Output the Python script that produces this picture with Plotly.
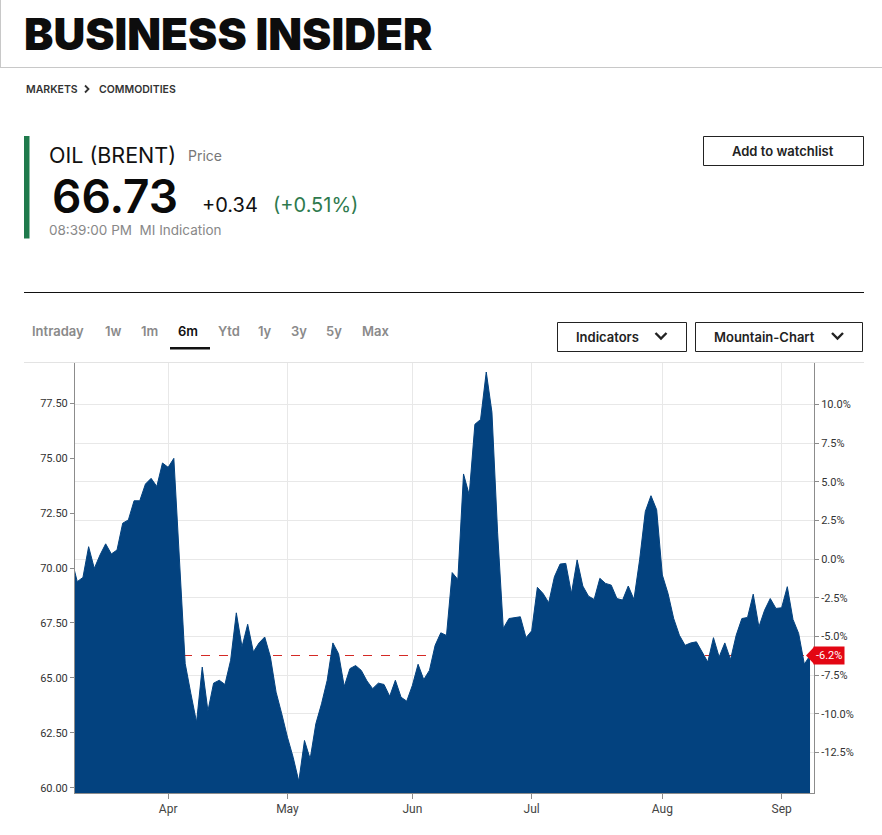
import pandas as pd
import plotly.graph_objects as go

# ---------------- data ----------------
trading_days = pd.bdate_range("2025-03-07", "2025-09-08")
holidays = pd.to_datetime(["2025-04-18"])
dates = [d for d in trading_days if d not in holidays]

prices = [
    70.40,
    69.38, 69.57, 70.97, 69.98, 70.59, 71.10, 70.64, 70.82, 72.04, 72.19,
    73.06, 73.06, 73.82, 74.08, 73.71, 74.78, 74.58, 74.99, 70.20, 65.65,
    64.28, 62.98, 65.49, 63.49, 64.76, 64.89, 64.70, 65.80, 67.96, 66.41,
    67.44, 66.18, 66.59, 66.86, 65.95, 64.35, 63.36, 62.30, 61.39, 60.29,
    62.15, 61.31, 62.91, 63.82, 64.89, 66.59, 66.10, 64.61, 65.42, 65.56,
    65.34, 64.86, 64.51, 64.76, 64.70, 64.16, 64.89, 64.12, 63.94, 64.66,
    65.62, 64.92, 65.34, 66.48, 67.05, 66.93, 69.79, 69.48, 74.28, 73.33,
    76.54, 76.76, 78.92, 77.09, 71.60, 67.25, 67.70, 67.75, 67.78, 66.83,
    67.14, 69.12, 68.84, 68.42, 69.60, 70.18, 70.21, 68.84, 70.37, 69.18,
    68.72, 68.57, 69.53, 69.30, 69.22, 68.61, 68.54, 69.18, 68.57, 70.37,
    72.57, 73.29, 72.65, 69.68, 68.84, 67.70, 66.94, 66.48, 66.59, 66.64,
    66.18, 65.72, 66.83, 65.95, 66.59, 65.83, 66.94, 67.70, 67.75, 68.81,
    67.32, 68.08, 68.61, 68.16, 68.19, 69.15, 67.66, 67.02, 65.62, 66.02,
]

price_ticks = [60.00, 62.50, 65.00, 67.50, 70.00, 72.50, 75.00, 77.50]
pct_ticks = [-12.5, -10.0, -7.5, -5.0, -2.5, 0.0, 2.5, 5.0, 7.5, 10.0]
tabs = ["Intraday", "1w", "1m", "6m", "Ytd", "1y", "3y", "5y", "Max"]
active_tab = "6m"

instrument = "OIL (BRENT)"
last_price = "66.73"
change_abs = "+0.34"
change_pct = "(+0.51%)"
timestamp = "08:39:00 PM  MI Indication"

# ---------------- derived ----------------
x = list(range(len(prices)))
base = prices[0]
last = prices[-1]
pct = [(p / base - 1) * 100 for p in prices]

tick_idx, tick_txt = [], []
for i in range(1, len(dates)):
    if dates[i].month != dates[i - 1].month:
        tick_idx.append(i)
        tick_txt.append(dates[i].strftime("%b"))

W, H = 882, 835
L, R, T, B = 75, 814, 363, 793
x_lo, x_hi = 0.6, 130.7
y_lo, y_hi = 59.76, 79.33


def px(X):
    return (X - L) / (R - L)


def py(Y):
    return (B - Y) / (B - T)


NAVY = "#03427f"
GRID = "#e8e8e8"
AXIS = "#8c8c8c"

fig = go.Figure()
# last-price dashed reference line, drawn under the area
fig.add_trace(go.Scatter(
    x=[x_lo, x_hi], y=[last, last], mode="lines",
    line=dict(color="#d42a26", width=1.1, dash="dash"),
    hoverinfo="skip", showlegend=False, cliponaxis=True,
))
fig.add_trace(go.Scatter(
    x=x, y=prices, mode="lines", fill="tozeroy",
    line=dict(color=NAVY, width=1), fillcolor=NAVY,
    hoverinfo="skip", showlegend=False,
))
fig.add_trace(go.Scatter(
    x=x, y=pct, yaxis="y2", mode="lines", opacity=0,
    line=dict(color=NAVY, width=0.1), hoverinfo="skip", showlegend=False,
))

tickfont = dict(family="Roboto", size=11, color="#333")

fig.update_layout(
    width=W, height=H, autosize=False,
    margin=dict(l=L, r=W - R, t=T, b=H - B, pad=0),
    paper_bgcolor="white", plot_bgcolor="white",
    xaxis=dict(
        range=[x_lo, x_hi], tickmode="array", tickvals=tick_idx, ticktext=tick_txt,
        showgrid=True, gridcolor=GRID, gridwidth=1, zeroline=False,
        showline=True, linecolor=AXIS, linewidth=1,
        ticks="outside", ticklen=5, tickcolor=AXIS,
        tickfont=dict(family="Roboto", size=12, color="#444"),
    ),
    yaxis=dict(
        range=[y_lo, y_hi], tickmode="array", tickvals=price_ticks,
        ticktext=[f"{v:.2f}" for v in price_ticks],
        showgrid=False, zeroline=False,
        showline=True, linecolor=AXIS, linewidth=1,
        ticks="outside", ticklen=4, tickcolor=AXIS, tickfont=tickfont,
    ),
    yaxis2=dict(
        overlaying="y", side="right",
        range=[(y_lo / base - 1) * 100, (y_hi / base - 1) * 100],
        tickmode="array", tickvals=pct_ticks,
        ticktext=[f"{v:.1f}%" for v in pct_ticks],
        showgrid=True, gridcolor=GRID, gridwidth=1, zeroline=False,
        showline=True, linecolor=AXIS, linewidth=1,
        ticks="outside", ticklen=4, tickcolor=AXIS, tickfont=tickfont,
    ),
)

shapes = []
ann = []

# header
shapes.append(dict(type="line", xref="paper", yref="paper", x0=px(0), x1=px(882),
                   y0=py(67.5), y1=py(67.5), line=dict(color="#c8c8c8", width=1)))
shapes.append(dict(type="line", xref="paper", yref="paper", x0=px(0.5), x1=px(0.5),
                   y0=py(0), y1=py(67.5), line=dict(color="#c8c8c8", width=1)))
ann.append(dict(text="BUSINESS INSIDER", x=px(22), y=py(34), xanchor="left",
                yanchor="middle", font=dict(family="Inter", size=44, color="#0d0d0d", weight=900)))

# breadcrumb
ann.append(dict(text="MARKETS", x=px(24), y=py(89), xanchor="left", yanchor="middle",
                font=dict(family="Inter", size=10.5, color="#333", weight=600)))
shapes.append(dict(type="path", xref="paper", yref="paper",
                   path=f"M {px(85)} {py(85.5)} L {px(88.5)} {py(89)} L {px(85)} {py(92.5)}",
                   line=dict(color="#333", width=1.8)))
ann.append(dict(text="COMMODITIES", x=px(97), y=py(89), xanchor="left", yanchor="middle",
                font=dict(family="Inter", size=10.5, color="#333", weight=600)))

# quote block
shapes.append(dict(type="rect", xref="paper", yref="paper", x0=px(24), x1=px(29.5),
                   y0=py(136), y1=py(238.5), fillcolor="#1f7a4c", line=dict(width=0)))
ann.append(dict(text=instrument, x=px(47), y=py(155), xanchor="left", yanchor="middle",
                font=dict(family="Inter", size=21.5, color="#111")))
ann.append(dict(text="Price", x=px(186), y=py(156), xanchor="left", yanchor="middle",
                font=dict(family="Inter", size=14, color="#777")))
ann.append(dict(text=last_price, x=px(50), y=py(196), xanchor="left", yanchor="middle",
                height=40, valign="middle",
                font=dict(family="Inter", size=46, color="#0a0a0a", weight=600)))
ann.append(dict(text=change_abs, x=px(200), y=py(205), xanchor="left", yanchor="middle",
                font=dict(family="Inter", size=20, color="#111")))
ann.append(dict(text=change_pct, x=px(271), y=py(205), xanchor="left", yanchor="middle",
                font=dict(family="Inter", size=20, color="#2e7a4e")))
ann.append(dict(text=timestamp, x=px(47), y=py(229.5), xanchor="left", yanchor="middle",
                font=dict(family="Inter", size=13.5, color="#888")))

# watchlist button
shapes.append(dict(type="rect", xref="paper", yref="paper", x0=px(703.5), x1=px(863.5),
                   y0=py(136.5), y1=py(165.5), line=dict(color="#222", width=1)))
ann.append(dict(text="Add to watchlist", x=px(783), y=py(151), xanchor="center", yanchor="middle",
                font=dict(family="Inter", size=13, color="#222", weight=600)))

# divider
shapes.append(dict(type="line", xref="paper", yref="paper", x0=px(24), x1=px(864),
                   y0=py(292.5), y1=py(292.5), line=dict(color="#111", width=1)))

# tabs
tab_x = [58, 113, 149, 188, 229, 265, 299, 334, 375]
for t, tx in zip(tabs, tab_x):
    ann.append(dict(text=t, x=px(tx), y=py(331), xanchor="center", yanchor="middle",
                    font=dict(family="Inter", size=13, weight=600,
                              color="#111" if t == active_tab else "#8a8a8a")))
shapes.append(dict(type="rect", xref="paper", yref="paper", x0=px(170), x1=px(210),
                   y0=py(347), y1=py(349.5), fillcolor="#111", line=dict(width=0)))

# dropdown buttons
for (x0, x1, label, chev) in [(557.5, 686.5, "Indicators", 661), (695.5, 862.5, "Mountain-Chart", 837.5)]:
    shapes.append(dict(type="rect", xref="paper", yref="paper", x0=px(x0), x1=px(x1),
                       y0=py(322.5), y1=py(351.5), line=dict(color="#222", width=1)))
    ann.append(dict(text=label, x=px(x0 + 16.5), y=py(336.5), xanchor="left", yanchor="middle",
                    font=dict(family="Inter", size=13, color="#222", weight=600)))
    shapes.append(dict(type="path", xref="paper", yref="paper",
                       path=f"M {px(chev-5.5)} {py(333)} L {px(chev)} {py(338.5)} L {px(chev+5.5)} {py(333)}",
                       line=dict(color="#222", width=2.4)))

# chart top rule
shapes.append(dict(type="line", xref="paper", yref="paper", x0=px(24), x1=px(864),
                   y0=py(362.5), y1=py(362.5), line=dict(color="#e3e3e3", width=1)))

# red last-value badge
chg = (last / base - 1) * 100
shapes.append(dict(type="path", xref="paper", yref="paper",
                   path=(f"M {px(806)} {py(655.5)} L {px(814)} {py(647)} L {px(814)} {py(664)} Z"),
                   fillcolor="#e30613", line=dict(width=0)))
ann.append(dict(text=f"{chg:.1f}%", xref="paper", yref="y", x=px(813), y=last,
                xanchor="left", yanchor="middle", bgcolor="#e30613", borderpad=2,
                font=dict(family="Roboto", size=11, color="white")))

for a in ann:
    a.setdefault("xref", "paper")
    a.setdefault("yref", "paper")
    a["showarrow"] = False

fig.update_layout(shapes=shapes, annotations=ann)
fig.write_html("out.html")
